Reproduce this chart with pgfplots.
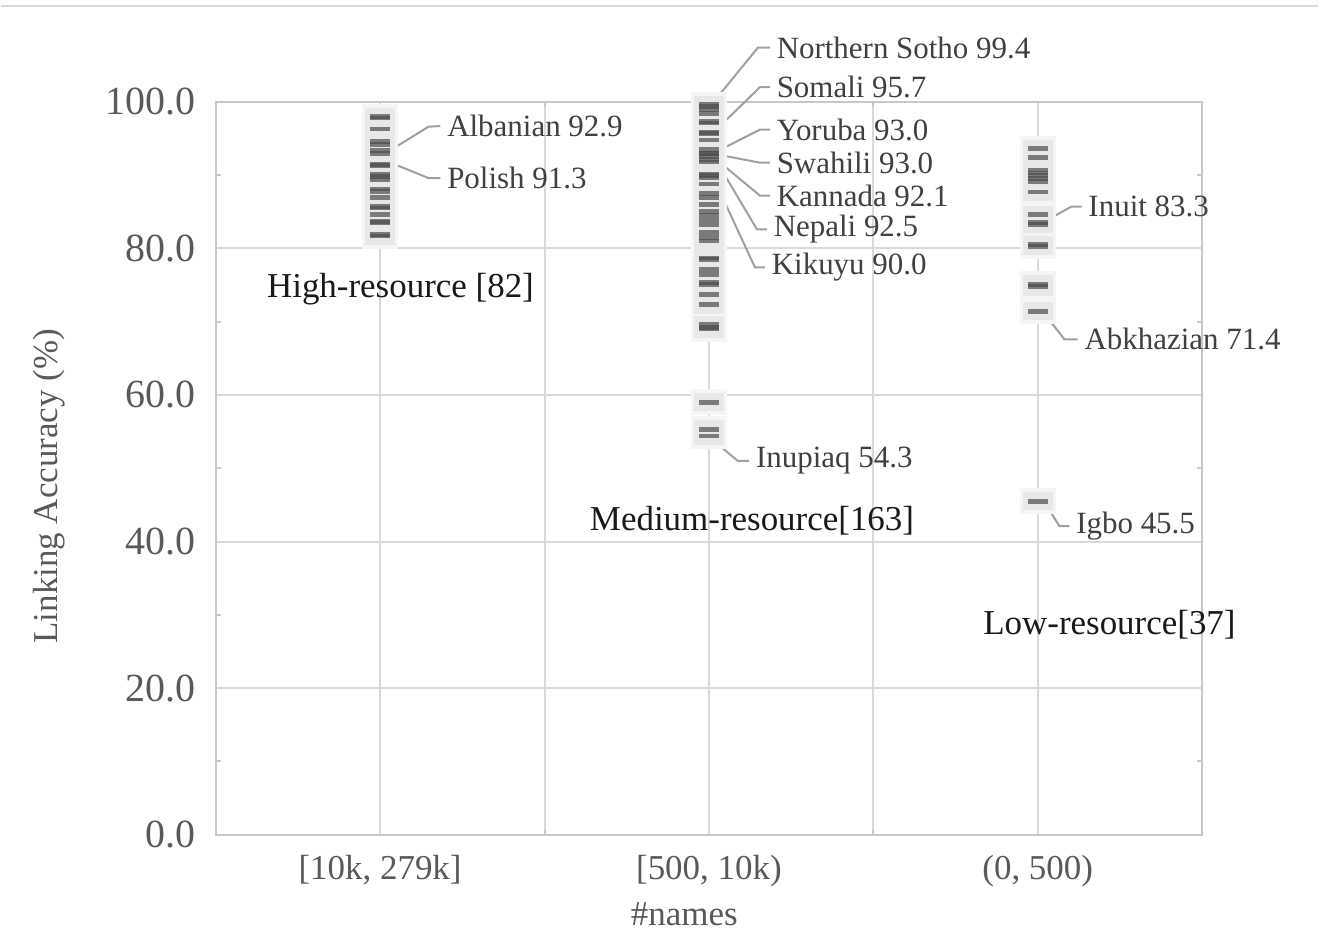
\documentclass[border=0pt]{standalone}
\usepackage{pgfplots}
\pgfplotsset{compat=1.18}
\usepackage{pgfplotstable}
\usepackage{fontspec}
\setmainfont{Liberation Serif}
\definecolor{gridc}{HTML}{D9D9D9}
\definecolor{axc}{HTML}{C8C8C8}
\definecolor{tickc}{HTML}{595959}
\definecolor{txtc}{HTML}{404040}
\definecolor{leadc}{HTML}{A0A0A0}

\pgfdeclareplotmark{haloA}{%
  \pgfsetcornersarced{\pgfpoint{4pt}{4pt}}%
  \pgfpathrectangle{\pgfpoint{-9pt}{-6.5pt}}{\pgfpoint{18pt}{13pt}}%
  \pgfusepathqfill}
\pgfdeclareplotmark{haloB}{%
  \pgfsetcornersarced{\pgfpoint{3pt}{3pt}}%
  \pgfpathrectangle{\pgfpoint{-7.5pt}{-4.5pt}}{\pgfpoint{15pt}{9pt}}%
  \pgfusepathqfill}

\pgfplotstableread{
x y
1 98.0
1 97.8
1 96.3
1 94.6
1 94.2
1 93.4
1 92.9
1 91.3
1 91.5
1 90.1
1 89.8
1 89.4
1 88.1
1 87.8
1 86.9
1 85.7
1 85.5
1 84.6
1 83.7
1 83.5
1 81.9
1 81.7
}\high

\pgfplotstableread{
x y
2 99.6
2 99.4
2 98.9
2 98.4
2 97.3
2 97.1
2 95.8
2 95.7
2 94.8
2 93.5
2 93.0
2 93.0
2 92.5
2 92.1
2 91.8
2 90.1
2 90.0
2 89.6
2 88.8
2 87.5
2 86.9
2 86.0
2 85.0
2 84.5
2 83.8
2 83.2
2 82.2
2 81.5
2 81.0
2 78.7
2 78.5
2 77.1
2 76.4
2 75.3
2 75.1
2 73.7
2 72.3
2 69.6
2 69.2
2 69.0
2 59.0
2 55.3
2 54.4
}\medium

\pgfplotstableread{
x y
3 93.6
3 92.4
3 90.7
3 90.3
3 89.9
3 89.5
3 89.1
3 87.7
3 84.6
3 83.3
3 83.5
3 80.5
3 80.3
3 75.1
3 74.8
3 71.4
3 45.5
}\low

\pgfplotsset{
  myhaloA/.style={only marks, mark=haloA, mark options={fill=black!4}},
  myhaloB/.style={only marks, mark=haloB, mark options={fill=black!9}},
  mydash/.style={only marks, color=black!70, mark=-, mark size=5pt,
    mark options={line width=2.4pt, draw=black!70, opacity=0.7}},
}

\begin{document}
\begin{tikzpicture}
\path (0,0) rectangle (659.5pt,467.5pt);
\draw[gridc, line width=1pt] (0,464.5pt) -- (659.5pt,464.5pt);
\begin{axis}[
  at={(107.5pt,49.5pt)}, anchor=south west,
  width=494pt, height=367pt, scale only axis,
  clip=false,
  xmin=0.5, xmax=3.5, ymin=0, ymax=100,
  xtick={1,2,3},
  xticklabels={{[10k, 279k]},{[500, 10k)},{(0, 500)}},
  minor xtick={1.5,2.5},
  ytick={0,20,...,100},
  minor ytick={10,30,...,90},
  xmajorgrids, xminorgrids, ymajorgrids,
  major grid style={gridc, line width=1pt},
  minor grid style={gridc, line width=1pt},
  axis line style={axc, line width=1pt},
  tick style={axc, line width=1pt},
  major tick length=0pt,
  minor tick length=2.5pt,
  tick align=inside,
  xticklabel style={font=\fontsize{17.5}{20}\selectfont, text=tickc, yshift=-6.5pt},
  yticklabel style={font=\fontsize{20}{22}\selectfont, text=tickc, xshift=-6.5pt},
  yticklabel style={/pgf/number format/.cd, fixed, fixed zerofill, precision=1},
  /pgf/number format/assume math mode=true,
  xlabel={\#names},
  xlabel style={at={(axis description cs:0.475,0)}, anchor=center, yshift=-40pt,
    font=\fontsize{17.5}{20}\selectfont, text=tickc},
  ylabel={Linking Accuracy (\%)},
  ylabel style={at={(axis description cs:-0.169,0.4755)}, anchor=center,
    font=\fontsize{17.5}{20}\selectfont, text=tickc},
]
% halos
\addplot[myhaloA] table[x=x,y=y] {\high};
\addplot[myhaloA] table[x=x,y=y] {\medium};
\addplot[myhaloA] table[x=x,y=y] {\low};
\addplot[myhaloB] table[x=x,y=y] {\high};
\addplot[myhaloB] table[x=x,y=y] {\medium};
\addplot[myhaloB] table[x=x,y=y] {\low};
% dashes
\addplot[mydash] table[x=x,y=y] {\high};
\addplot[mydash] table[x=x,y=y] {\medium};
\addplot[mydash] table[x=x,y=y] {\low};

% leader lines and labels
\tikzset{lab/.style={anchor=west, inner sep=3pt, font=\fontsize{15.5}{18}\selectfont, text=txtc},
         lead/.style={leadc, line width=1pt}}
\draw[lead] (axis cs:1.019,93.05) -- (axis cs:1.147,96.6) -- (axis cs:1.183,96.7) node[lab]{Albanian 92.9};
\draw[lead] (axis cs:1.010,92.1) -- (axis cs:1.147,89.6) -- (axis cs:1.183,89.6) node[lab]{Polish 91.3};

\draw[lead] (axis cs:2.009,99.7) -- (axis cs:2.149,107.4) -- (axis cs:2.185,107.4) node[lab]{Northern Sotho 99.4};
\draw[lead] (axis cs:2.018,96.0) -- (axis cs:2.155,102.0) -- (axis cs:2.185,102.0) node[lab]{Somali 95.7};
\draw[lead] (axis cs:2.027,93.3) -- (axis cs:2.155,96.2) -- (axis cs:2.185,96.2) node[lab]{Yoruba 93.0};
\draw[lead] (axis cs:2.027,92.8) -- (axis cs:2.155,91.7) -- (axis cs:2.185,91.7) node[lab]{Swahili 93.0};
\draw[lead] (axis cs:2.021,92.2) -- (axis cs:2.155,87.2) -- (axis cs:2.185,87.2) node[lab]{Kannada 92.1};
\draw[lead] (axis cs:2.015,92.5) -- (axis cs:2.146,82.6) -- (axis cs:2.176,82.6) node[lab]{Nepali 92.5};
\draw[lead] (axis cs:2.009,90.1) -- (axis cs:2.140,77.4) -- (axis cs:2.170,77.4) node[lab]{Kikuyu 90.0};
\draw[lead] (axis cs:2.009,53.95) -- (axis cs:2.088,51.0) -- (axis cs:2.122,51.0) node[lab]{Inupiaq 54.3};

\draw[lead] (axis cs:3.020,83.65) -- (axis cs:3.102,85.7) -- (axis cs:3.133,85.7) node[lab]{Inuit 83.3};
\draw[lead] (axis cs:3.020,71.1) -- (axis cs:3.081,67.6) -- (axis cs:3.121,67.6) node[lab]{Abkhazian 71.4};
\draw[lead] (axis cs:3.020,45.4) -- (axis cs:3.066,42.1) -- (axis cs:3.096,42.1) node[lab]{Igbo 45.5};

% group labels
\tikzset{grp/.style={anchor=center, font=\fontsize{17.5}{20}\selectfont, text=black!90}}
\node[grp] at (axis cs:1.062,74.5) {High-resource [82]};
\node[grp] at (axis cs:2.131,42.8) {Medium-resource[163]};
\node[grp] at (axis cs:3.218,28.7) {Low-resource[37]};
\end{axis}
\end{tikzpicture}
\end{document}
